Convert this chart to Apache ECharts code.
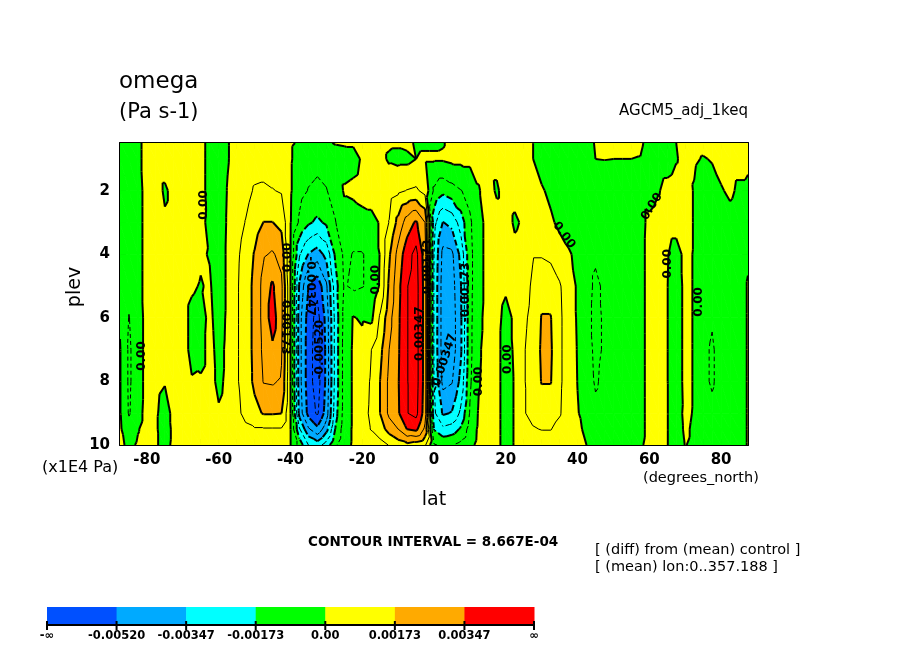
<!DOCTYPE html>
<html>
<head>
<meta charset="utf-8">
<script src="https://cdn.jsdelivr.net/npm/echarts@6/dist/echarts.min.js"></script>
<style>
html,body{margin:0;padding:0;background:#ffffff;}
#c{width:904px;height:654px;}
</style>
</head>
<body>
<div id="c"></div>
<script>
// ---------------- DATA ----------------
// latitude grid (degrees_north)
const lat = [-87.5,-85,-82.5,-80,-77.5,-75,-72.5,-70,-67.5,-65,-62.5,-60,-57.5,-55,-52.5,-50,-47.5,-45,-42.5,-40,
  -37.5,-35,-32.5,-30,-27.5,-25,-22.5,-20,-17.5,-15,-12.5,-10,-7.5,-5,-2.5,0,2.5,5,7.5,10,
  12.5,15,17.5,20,22.5,25,27.5,30,32.5,35,37.5,40,42.5,45,47.5,50,52.5,55,57.5,60,
  62.5,65,67.5,70,72.5,75,77.5,80,82.5,85,87.5];
// pressure levels (x1E4 Pa)
const plev = [0.5,1,2,3,4,5,6,7,8,9,9.5,10];
// omega difference, units of 1E-3 Pa s-1; one array per latitude, values at plev
const omegaByLat = [
  [-0.3,-0.3,-0.3,-0.3,-0.3,-0.2,-0.1,0.05,0.05,0.05,0.1,0.2],   // -87.5
  [-0.4,-0.4,-0.5,-0.5,-0.5,-0.6,-0.9,-1.0,-1.0,-0.95,-0.5,-0.2], // -85
  [-0.2,-0.2,-0.3,-0.3,-0.3,-0.3,-0.4,-0.4,-0.4,-0.3,-0.05,0.1],  // -82.5
  [0.3,0.3,0.3,0.3,0.3,0.3,0.3,0.3,0.3,0.3,0.3,0.3],             // -80
  [0.3,0.3,0.3,0.3,0.3,0.3,0.3,0.3,0.2,0.1,0.1,0.1],             // -77.5
  [0.3,0.3,-0.1,0.1,0.3,0.3,0.3,0.3,0.05,-0.3,-0.4,-0.3],        // -75
  [0.3,0.3,0.2,0.2,0.3,0.3,0.3,0.3,0.3,0.2,0.2,0.2],             // -72.5
  [0.3,0.3,0.3,0.3,0.3,0.3,0.3,0.3,0.3,0.3,0.3,0.3],             // -70
  [0.3,0.3,0.3,0.3,0.3,0.1,-0.2,-0.2,0.05,0.3,0.3,0.3],          // -67.5
  [0.3,0.3,0.3,0.2,0.1,-0.05,-0.3,-0.3,0.1,0.3,0.3,0.3],         // -65
  [-0.3,-0.3,-0.3,-0.2,-0.05,0.1,0.2,0.3,0.3,0.3,0.3,0.3],       // -62.5
  [-0.5,-0.5,-0.5,-0.5,-0.5,-0.5,-0.4,-0.3,-0.2,0.1,0.2,0.3],    // -60
  [-0.05,-0.05,0.05,0.1,0.15,0.15,0.15,0.2,0.2,0.3,0.3,0.3],     // -57.5
  [0.3,0.3,0.35,0.5,0.7,0.75,0.75,0.75,0.75,0.65,0.5,0.3],       // -55
  [0.3,0.4,0.6,0.9,1.2,1.3,1.3,1.3,1.3,1.1,0.7,0.35],            // -52.5
  [0.3,0.5,0.95,1.3,1.8,1.95,1.95,1.95,1.9,1.5,0.8,0.4],         // -50
  [0.3,0.5,1.0,1.75,2.5,2.9,2.9,2.8,2.65,1.8,0.8,0.4],           // -47.5
  [0.3,0.5,0.9,1.75,2.7,3.6,3.9,3.3,2.7,1.8,0.8,0.4],            // -45
  [0.3,0.4,0.8,1.5,2.3,2.8,2.8,2.7,2.5,1.75,0.8,0.4],            // -42.5
  [0.1,0.1,0.1,0.05,0.02,0.02,0.02,0.02,0.02,0.02,0.02,0.02],    // -40
  [-0.1,-0.4,-0.6,-1.0,-2.5,-3.6,-4.0,-4.0,-4.0,-3.8,-2.5,-1.2], // -37.5
  [-0.1,-0.6,-0.9,-1.6,-3.5,-5.2,-5.6,-5.7,-5.7,-5.5,-4.2,-2.6], // -35
  [-0.1,-0.7,-1.0,-1.9,-3.9,-5.8,-6.4,-6.5,-6.5,-6.2,-5.0,-3.0], // -32.5
  [-0.1,-0.6,-0.9,-1.6,-3.2,-4.5,-4.9,-5.0,-5.0,-4.8,-3.8,-2.2], // -30
  [0.05,-0.4,-0.6,-0.9,-1.6,-2.1,-2.3,-2.3,-2.3,-2.1,-1.7,-1.0], // -27.5
  [0.1,-0.4,0.1,-0.4,-0.7,-0.8,-0.6,-0.5,-0.5,-0.5,-0.4,-0.3],   // -25
  [0.1,-0.3,0.2,-0.5,-0.9,-1.0,0.05,0.1,0.1,0.1,0.1,0.1],        // -22.5
  [0.2,0.1,0.3,-0.3,-0.9,-0.9,-0.1,0.3,0.5,0.6,0.6,0.5],         // -20
  [0.2,0.2,0.3,-0.2,-0.7,-0.7,-0.2,0.85,0.95,1.0,0.9,0.5],       // -17.5
  [0.2,0.2,0.3,0.05,0.05,0.1,1.0,1.5,1.75,1.75,1.3,0.6],         // -15
  [0.1,-0.1,0.5,0.9,1.6,1.9,2.3,2.6,2.8,2.8,2.1,0.9],            // -12.5
  [0.1,-0.2,0.7,2.0,2.9,3.2,3.3,3.35,3.4,3.35,2.6,1.3],          // -10
  [0.2,-0.2,0.9,3.0,4.0,4.3,4.3,4.3,4.3,4.3,3.5,1.5],            // -7.5
  [-0.1,0.0,1.0,3.6,4.6,4.7,4.7,4.7,4.7,4.6,3.7,1.3],            // -5
  [-0.1,0.1,0.6,2.6,3.0,3.1,3.1,3.1,3.1,3.0,2.4,1.0],            // -2.5
  [-0.1,0.1,-1.0,-2.3,-2.6,-2.7,-2.7,-2.7,-2.6,-2.4,-1.8,-0.8],  // 0
  [-0.05,0.1,-1.5,-3.5,-4.6,-4.8,-4.8,-4.8,-4.6,-3.6,-2.4,-1.0], // 2.5
  [0.2,0.2,-1.2,-3.2,-4.5,-4.7,-4.8,-4.8,-4.4,-3.4,-2.2,-0.9],   // 5
  [0.2,0.2,-0.9,-2.2,-3.2,-3.5,-3.6,-3.6,-3.2,-2.4,-1.6,-0.6],   // 7.5
  [0.2,0.2,-0.6,-1.0,-1.1,-1.1,-1.1,-1.1,-1.0,-0.8,-0.5,-0.2],   // 10
  [0.2,0.2,-0.05,-0.3,-0.3,-0.3,-0.2,-0.1,-0.05,0.1,0.15,0.2],   // 12.5
  [0.2,0.2,0.3,0.3,0.3,0.3,0.3,0.3,0.3,0.3,0.3,0.3],             // 15
  [0.2,0.2,-0.1,0.3,0.3,0.3,0.2,0.2,0.2,0.2,0.2,0.2],            // 17.5
  [0.2,0.2,0.3,0.3,0.3,0.1,-0.2,-0.3,-0.3,-0.3,-0.3,-0.3],       // 20
  [0.2,0.2,0.2,-0.1,0.2,0.2,0.1,0.1,0.05,0.05,0.05,0.05],        // 22.5
  [0.2,0.2,0.2,0.1,0.3,0.5,0.7,0.8,0.8,0.8,0.6,0.3],             // 25
  [0.02,0.02,0.2,0.5,0.8,1.0,1.1,1.2,1.2,1.1,0.8,0.4],           // 27.5
  [-0.4,-0.4,0.1,0.4,0.8,1.4,1.78,1.85,1.78,1.3,0.9,0.4],        // 30
  [-0.5,-0.5,-0.2,0.15,0.7,1.3,1.78,1.85,1.78,1.2,0.9,0.4],      // 32.5
  [-0.5,-0.5,-0.4,-0.2,0.4,0.95,1.0,1.0,1.0,0.95,0.6,0.3],       // 35
  [-0.5,-0.5,-0.5,-0.4,0.1,0.4,0.5,0.5,0.5,0.4,0.3,0.2],         // 37.5
  [-0.5,-0.5,-0.5,-0.5,-0.2,-0.1,-0.1,-0.05,-0.02,0.05,0.1,0.2], // 40
  [-0.5,-0.5,-0.6,-0.7,-0.7,-0.7,-0.7,-0.6,-0.5,-0.3,-0.1,0.0],  // 42.5
  [0.1,0.0,-0.6,-0.7,-0.8,-0.95,-1.0,-1.0,-0.95,-0.7,-0.5,-0.3], // 45
  [0.1,0.02,-0.5,-0.6,-0.7,-0.8,-0.8,-0.8,-0.7,-0.6,-0.5,-0.3],  // 47.5
  [0.1,0.0,-0.5,-0.6,-0.6,-0.6,-0.6,-0.6,-0.6,-0.5,-0.4,-0.3],   // 50
  [0.1,0.0,-0.4,-0.5,-0.5,-0.5,-0.5,-0.5,-0.5,-0.4,-0.3,-0.3],   // 52.5
  [0.1,0.0,-0.3,-0.4,-0.4,-0.4,-0.4,-0.4,-0.4,-0.4,-0.3,-0.2],   // 55
  [0.1,-0.02,-0.2,-0.2,-0.2,-0.2,-0.2,-0.2,-0.2,-0.2,-0.2,-0.1], // 57.5
  [-0.2,-0.3,-0.3,0.15,0.2,0.2,0.2,0.2,0.2,0.2,0.2,0.2],         // 60
  [-0.3,-0.3,-0.05,0.3,0.3,0.3,0.3,0.3,0.3,0.3,0.2,0.2],         // 62.5
  [-0.3,-0.3,0.2,0.3,0.05,0.02,0.02,0.02,0.02,0.02,0.02,0.02],   // 65
  [0.0,-0.05,0.3,0.3,-0.3,-0.4,-0.4,-0.4,-0.4,-0.3,-0.3,-0.3],   // 67.5
  [0.2,0.2,0.3,0.3,0.2,0.2,0.2,0.2,0.2,0.15,0.1,0.02],           // 70
  [0.2,0.1,-0.05,-0.05,-0.05,-0.05,-0.05,-0.05,-0.05,-0.05,-0.1,-0.1], // 72.5
  [0.2,-0.05,-0.4,-0.5,-0.5,-0.5,-0.6,-0.7,-0.7,-0.6,-0.5,-0.4], // 75
  [0.2,0.05,-0.3,-0.5,-0.5,-0.6,-0.8,-0.95,-0.95,-0.7,-0.5,-0.4],// 77.5
  [0.2,0.2,-0.05,-0.4,-0.5,-0.5,-0.6,-0.6,-0.6,-0.5,-0.4,-0.3],  // 80
  [0.2,0.2,0.1,-0.2,-0.4,-0.4,-0.4,-0.4,-0.4,-0.4,-0.3,-0.3],    // 82.5
  [0.2,0.2,-0.1,-0.3,-0.3,-0.3,-0.3,-0.3,-0.3,-0.3,-0.3,-0.3],   // 85
  [0.1,0.1,-0.1,-0.2,-0.1,0.05,0.05,0.05,0.05,0.05,0.05,0.05]    // 87.5
];
// shading levels (1E-3 Pa s-1) and colours
const bandEdges = [-5.2, -3.467, -1.733, 0, 1.733, 3.467];
const bandColors = ['#0050ff', '#00aaff', '#00ffff', '#00ff00', '#ffff00', '#ffaa00', '#ff0000'];
const colorbarLabels = ['-\u221e', '-0.00520', '-0.00347', '-0.00173', '0.00', '0.00173', '0.00347', '\u221e'];
// contour lines: every 8.667E-04
const contourInterval = 0.8667;
const contourSteps = [-8,-7,-6,-5,-4,-3,-2,-1,0,1,2,3,4,5,6];
// axis ticks
const latTickLabels = [-80,-60,-40,-20,0,20,40,60,80];
const latMinorTicks = [-85,-80,-75,-70,-65,-60,-55,-50,-45,-40,-35,-30,-25,-20,-15,-10,-5,0,5,10,15,20,25,30,35,40,45,50,55,60,65,70,75,80,85];
const plevTickLabels = [2,4,6,8,10];
const plevMinorTicks = [1,1.5,2,2.5,3,3.5,4,4.5,5,5.5,6,6.5,7,7.5,8,8.5,9,9.5];
// contour labels
const contourLabelText = ['0.00','0.00','0.00','0.00173','-0.00347','-0.00520','0.00','0.00347','0.00173','-0.00347','-0.00173','0.00','0.00','0.00','0.00','0.00','0.00'];
const contourLabelLat  = [-64, -81.3, -40.6, -41.6, -34.6, -31.8, -16.2, -3.8, -1.8, 2.8, 8.8, 12.5, 20.6, 36.2, 60.7, 65.2, 73.8];
const contourLabelPlev = [2.45, 7.2, 4.1, 6.3, 5.0, 7.0, 4.8, 6.5, 4.4, 7.4, 5.2, 8.0, 7.3, 3.4, 2.5, 4.3, 5.5];
const contourLabelRot  = [90, 90, 90, -90, -90, 90, 90, 90, 90, 72, 90, 90, 90, -54, 58, 90, 90];

// ---------------- HELPERS ----------------
if (omegaByLat.length !== lat.length) console.error('omega/lat length mismatch', omegaByLat.length, lat.length);
omegaByLat.forEach((c, i) => { if (c.length !== plev.length) console.error('bad column', i, c.length); });

function triPoly(i, j, t) {
  const idx = t === 0 ? [[i, j], [i + 1, j], [i + 1, j + 1]] : [[i, j], [i + 1, j + 1], [i, j + 1]];
  return idx.map(([a, b]) => ({ x: lat[a], y: plev[b], v: omegaByLat[a][b] }));
}
function clip(poly, f) {
  const out = [];
  const n = poly.length;
  for (let k = 0; k < n; k++) {
    const A = poly[k], B = poly[(k + 1) % n];
    const fa = f(A.v), fb = f(B.v);
    if (fa >= 0) out.push(A);
    if ((fa >= 0) !== (fb >= 0)) {
      const s = fa / (fa - fb);
      out.push({ x: A.x + s * (B.x - A.x), y: A.y + s * (B.y - A.y), v: A.v + s * (B.v - A.v) });
    }
  }
  return out;
}
function crossing(poly, L) {
  const pts = [];
  for (let k = 0; k < 3; k++) {
    const A = poly[k], B = poly[(k + 1) % 3];
    if ((A.v < L) !== (B.v < L)) {
      const s = (L - A.v) / (B.v - A.v);
      pts.push([A.x + s * (B.x - A.x), A.y + s * (B.y - A.y)]);
    }
  }
  return pts.length === 2 ? pts : null;
}

const triangles = [];
for (let i = 0; i < lat.length - 1; i++)
  for (let j = 0; j < plev.length - 1; j++)
    for (let t = 0; t < 2; t++)
      triangles.push([(lat[i] + lat[i + 1]) / 2, (plev[j] + plev[j + 1]) / 2, i, j, t]);

function renderFill(params, api) {
  const poly = triPoly(api.value(2), api.value(3), api.value(4));
  const children = [];
  for (let k = 0; k < bandColors.length; k++) {
    let p = poly;
    if (k > 0) { const lo = bandEdges[k - 1]; p = clip(p, v => v - lo); }
    if (k < bandEdges.length && p.length) { const hi = bandEdges[k]; p = clip(p, v => hi - v); }
    if (p.length >= 3) {
      children.push({
        type: 'polygon',
        shape: { points: p.map(q => api.coord([q.x, q.y])) },
        style: { fill: bandColors[k], stroke: bandColors[k], lineWidth: 0.8 }
      });
    }
  }
  return { type: 'group', children };
}
function renderLines(params, api) {
  const poly = triPoly(api.value(2), api.value(3), api.value(4));
  const children = [];
  contourSteps.forEach(s => {
    const seg = crossing(poly, s * contourInterval);
    if (!seg) return;
    const a = api.coord(seg[0]), b = api.coord(seg[1]);
    const thick = (s % 2 === 0);
    children.push({
      type: 'line',
      shape: { x1: a[0], y1: a[1], x2: b[0], y2: b[1] },
      style: { stroke: '#000', lineWidth: thick ? 2 : 1, lineDash: s < 0 ? (thick ? [6, 3] : [4, 3]) : null }
    });
  });
  return { type: 'group', children };
}
function renderLabels(params, api) {
  const idx = params.dataIndex;
  const pt = api.coord([api.value(0), api.value(1)]);
  return {
    type: 'text', x: pt[0], y: pt[1], rotation: contourLabelRot[idx] * Math.PI / 180,
    style: { text: contourLabelText[idx], fill: '#000', font: 'bold 12px "DejaVu Sans"', align: 'center', verticalAlign: 'middle' }
  };
}

// ---------------- CHART ----------------
const chart = echarts.init(document.getElementById('c'));
const axisFont = { color: '#000', fontSize: 15, fontWeight: 'bold', fontFamily: 'DejaVu Sans' };
const frameLine = { show: true, onZero: false, lineStyle: { color: '#000', width: 2 } };

// colour bar graphics
const cbX0 = 47, cbX1 = 534, cbY = 607, cbH = 18;
const cbW = (cbX1 - cbX0) / bandColors.length;
const graphics = [];
bandColors.forEach((c, k) => {
  graphics.push({ type: 'rect', shape: { x: cbX0 + k * cbW, y: cbY, width: cbW + 0.5, height: cbH }, style: { fill: c } });
});
graphics.push({ type: 'line', shape: { x1: cbX0, y1: cbY + cbH, x2: cbX1, y2: cbY + cbH }, style: { stroke: '#000', lineWidth: 2 } });
colorbarLabels.forEach((t, k) => {
  const x = cbX0 + k * cbW;
  graphics.push({ type: 'line', shape: { x1: x, y1: cbY + cbH - 4, x2: x, y2: cbY + cbH + 5 }, style: { stroke: '#000', lineWidth: 2 } });
  graphics.push({ type: 'text', x: x, y: cbY + 29, style: { text: t, fill: '#000', font: 'bold 11.5px "DejaVu Sans"', align: 'center', verticalAlign: 'middle' } });
});
const txt = (text, x, y, font, align, rot) => ({
  type: 'text', x, y, rotation: rot || 0,
  style: { text, fill: '#000', font, align: align || 'left', verticalAlign: 'middle' }
});
graphics.push(txt('omega', 119, 82, '23px "DejaVu Sans"'));
graphics.push(txt('(Pa s-1)', 119, 113, '21px "DejaVu Sans"'));
graphics.push(txt('AGCM5_adj_1keq', 748, 111, '15px "DejaVu Sans"', 'right'));
graphics.push(txt('plev', 75, 287, '19px "DejaVu Sans"', 'center', Math.PI / 2));
graphics.push(txt('(x1E4 Pa)', 42, 468, '16px "DejaVu Sans"'));
graphics.push(txt('lat', 434, 500, '19px "DejaVu Sans"', 'center'));
graphics.push(txt('(degrees_north)', 643, 478, '14.5px "DejaVu Sans"'));
graphics.push(txt('CONTOUR INTERVAL = 8.667E-04', 308, 542, 'bold 13.5px "DejaVu Sans"'));
graphics.push(txt('[ (diff) from (mean) control ]', 595, 550, '14.5px "DejaVu Sans"'));
graphics.push(txt('[ (mean) lon:0..357.188 ]', 595, 567, '14.5px "DejaVu Sans"'));

chart.setOption({
  animation: false,
  backgroundColor: '#ffffff',
  grid: { left: 120, right: 156, top: 143, bottom: 209, containLabel: false },
  xAxis: [
    {
      type: 'value', min: -87.5, max: 87.5, position: 'bottom',
      axisLine: frameLine,
      axisTick: { show: true, inside: true, length: 6, customValues: latMinorTicks, lineStyle: { color: '#000', width: 1 } },
      axisLabel: { ...axisFont, margin: 8, customValues: latTickLabels },
      splitLine: { show: false }
    },
    {
      type: 'value', min: -87.5, max: 87.5, position: 'top',
      axisLine: frameLine,
      axisTick: { show: true, inside: true, length: 6, customValues: latMinorTicks, lineStyle: { color: '#000', width: 1 } },
      axisLabel: { show: false },
      splitLine: { show: false }
    }
  ],
  yAxis: [
    {
      type: 'value', inverse: true, min: 0.5, max: 10, position: 'left',
      axisLine: frameLine,
      axisTick: { show: true, inside: true, length: 6, customValues: plevMinorTicks, lineStyle: { color: '#000', width: 1 } },
      axisLabel: { ...axisFont, margin: 10, customValues: plevTickLabels },
      splitLine: { show: false }
    },
    {
      type: 'value', inverse: true, min: 0.5, max: 10, position: 'right',
      axisLine: frameLine,
      axisTick: { show: true, inside: true, length: 6, customValues: plevMinorTicks, lineStyle: { color: '#000', width: 1 } },
      axisLabel: { show: false },
      splitLine: { show: false }
    }
  ],
  series: [
    {
      type: 'custom', name: 'omega fill', coordinateSystem: 'cartesian2d', xAxisIndex: 0, yAxisIndex: 0,
      encode: { x: 0, y: 1 }, clip: true, silent: true, z: 1,
      renderItem: renderFill, data: triangles
    },
    {
      type: 'custom', name: 'omega contours', coordinateSystem: 'cartesian2d', xAxisIndex: 0, yAxisIndex: 0,
      encode: { x: 0, y: 1 }, clip: true, silent: true, z: 2,
      renderItem: renderLines, data: triangles
    },
    {
      type: 'custom', name: 'contour labels', coordinateSystem: 'cartesian2d', xAxisIndex: 0, yAxisIndex: 0,
      encode: { x: 0, y: 1 }, clip: true, silent: true, z: 3,
      renderItem: renderLabels,
      data: contourLabelLat.map((v, k) => [v, contourLabelPlev[k]])
    }
  ],
  graphic: graphics
});
</script>
</body>
</html>
